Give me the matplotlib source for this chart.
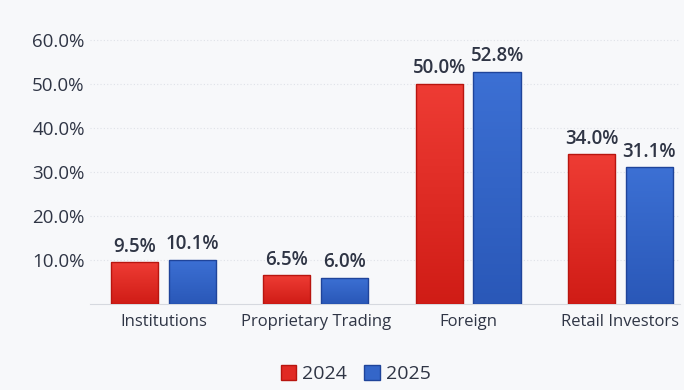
import matplotlib.pyplot as plt
import numpy as np
from matplotlib.patches import Patch
from matplotlib.colors import LinearSegmentedColormap

# investor share of trading value by type
categories = ["Institutions", "Proprietary Trading", "Foreign", "Retail Investors"]
share_2024 = [9.5, 6.5, 50.0, 34.0]
share_2025 = [10.1, 6.0, 52.8, 31.1]
years = ["2024", "2025"]
tick_values = [10, 20, 30, 40, 50, 60]

RED = "#e12a24"
RED_EDGE = "#b8150f"
BLUE = "#3466c9"
BLUE_EDGE = "#1f449a"
TEXT = "#2f3545"
BG = "#f7f8fa"


def shade_bars(ax, bars, top, bottom):
    # vertical gradient clipped to each bar
    cmap = LinearSegmentedColormap.from_list("g", [bottom, top])
    grad = np.linspace(0, 1, 64).reshape(-1, 1)
    for b in bars:
        x0, y0 = b.get_x(), b.get_y()
        im = ax.imshow(grad, cmap=cmap, origin="lower", aspect="auto",
                       extent=[x0, x0 + b.get_width(), y0, y0 + b.get_height()],
                       zorder=3)
        im.set_clip_path(b)


def main():
    plt.rcParams['font.family'] = ['Open Sans', 'DejaVu Sans']
    fig = plt.figure(figsize=(6.84, 3.90), dpi=100)
    fig.patch.set_facecolor(BG)
    ax = fig.add_axes([0.132, 0.2205, 0.862, 0.70])
    ax.set_facecolor(BG)

    x = np.arange(len(categories))
    offset = 0.19
    width = 0.31
    bars_a = ax.bar(x - offset, share_2024, width, color=RED, edgecolor=RED_EDGE,
                    linewidth=1.0, zorder=4, fill=False)
    bars_b = ax.bar(x + offset, share_2025, width, color=BLUE, edgecolor=BLUE_EDGE,
                    linewidth=1.0, zorder=4, fill=False)
    clip_a = ax.bar(x - offset, share_2024, width, color=RED, linewidth=0, zorder=2)
    clip_b = ax.bar(x + offset, share_2025, width, color=BLUE, linewidth=0, zorder=2)
    shade_bars(ax, clip_a, "#ee3c34", "#d01c16")
    shade_bars(ax, clip_b, "#3c70d4", "#2a58b8")

    for bars, vals in ((bars_a, share_2024), (bars_b, share_2025)):
        for b, v in zip(bars, vals):
            ax.annotate(f"{v:.1f}%", (b.get_x() + b.get_width() / 2, v),
                        xytext=(0, 4), textcoords="offset points",
                        ha="center", va="bottom", fontsize=13.5,
                        fontweight="semibold", color=TEXT)

    ax.set_ylim(0, 62)
    ax.set_xlim(-0.48, 3.39)
    ax.set_yticks(tick_values)
    ax.set_yticklabels([f"{t:.1f}%" for t in tick_values], fontsize=13.5, color=TEXT)
    ax.set_xticks(x)
    ax.set_xticklabels(categories, fontsize=12, color=TEXT)
    ax.tick_params(axis="both", length=0)
    ax.tick_params(axis="y", pad=4)
    ax.tick_params(axis="x", pad=7)

    ax.grid(axis="y", color="#dfe2e8", linestyle=(0, (1, 2)), linewidth=0.8, zorder=0)
    for side in ("top", "right", "left"):
        ax.spines[side].set_visible(False)
    ax.spines["bottom"].set_color("#d6d9df")
    ax.spines["bottom"].set_linewidth(0.8)

    handles = [Patch(facecolor=RED, edgecolor=RED_EDGE),
               Patch(facecolor=BLUE, edgecolor=BLUE_EDGE)]
    fig.legend(handles, years, loc="center", bbox_to_anchor=(0.52, 0.04),
               ncol=2, frameon=False, handlelength=0.8,
               handleheight=0.8, handletextpad=0.3, columnspacing=0.9,
               labelcolor=TEXT, prop={"size": 14, "weight": "medium"})

    fig.savefig("out.png", dpi=100, facecolor=BG)


if __name__ == '__main__':
    main()
